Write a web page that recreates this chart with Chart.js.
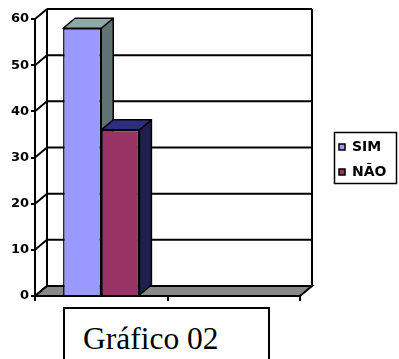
<!DOCTYPE html>
<html>
<head>
<meta charset="utf-8">
<script src="https://cdn.jsdelivr.net/npm/chart.js@4.4.1/dist/chart.umd.min.js"></script>
<style>
  html, body { margin: 0; padding: 0; background: #fff; }
  #wrap { position: relative; width: 399px; height: 359px; overflow: hidden; }
  #chart { position: absolute; left: 0; top: 0; }
  #caption {
    position: absolute; left: 63px; top: 307px; width: 203px; height: 80px;
    border: 2px solid #000; background: #fff;
  }
  #caption span {
    position: absolute; left: 18px; top: 14px;
    font-family: "Liberation Serif", "Times New Roman", serif;
    font-size: 31.5px; line-height: 31px; color: #000; white-space: nowrap;
  }
</style>
</head>
<body>
<div id="wrap">
  <canvas id="chart" width="399" height="359"></canvas>
  <div id="caption"><span>Gráfico 02</span></div>
</div>
<script>
// Data
const categories = ['', ''];
const seriesNames = ['SIM', 'NÃO'];
const simValues = [58, null];
const naoValues = [36, null];
const yTicks = [0, 10, 20, 30, 40, 50, 60];

// Face colours for the pseudo-3D columns: front, top, side
const simColors = { front: '#9999ff', top: '#8ea8a7', side: '#5e7372' };
const naoColors = { front: '#993366', top: '#2e2e80', side: '#1f1f4f' };
const faceColors = [simColors, naoColors];

// Depth offset used for the walls, floor and column sides
const DX = 12, DY = -10;

function line(ctx, x1, y1, x2, y2) {
  ctx.beginPath();
  ctx.moveTo(x1, y1);
  ctx.lineTo(x2, y2);
  ctx.stroke();
}

function poly(ctx, pts, fill) {
  ctx.beginPath();
  ctx.moveTo(pts[0][0], pts[0][1]);
  for (let i = 1; i < pts.length; i++) ctx.lineTo(pts[i][0], pts[i][1]);
  ctx.closePath();
  ctx.fillStyle = fill;
  ctx.fill();
  ctx.stroke();
}

const depthPlugin = {
  id: 'depth3d',
  afterLayout(chart) {
    // Legend sits to the right of the plot, inside its own framed box
    const lg = chart.legend;
    lg.left = 328; lg.right = 397;
    lg.top = 120; lg.bottom = 199;
    lg.width = lg.right - lg.left;
    lg.height = lg.bottom - lg.top;
  },
  beforeDraw(chart) {
    const { ctx, chartArea: a, scales: { y } } = chart;
    ctx.save();
    ctx.strokeStyle = '#000';
    ctx.lineWidth = 2;
    const wl = a.left + DX, wr = a.right + DX;
    const wt = y.getPixelForValue(yTicks[yTicks.length - 1]) + DY;
    const wb = y.getPixelForValue(yTicks[0]) + DY;
    // back wall
    ctx.fillStyle = '#fff';
    ctx.fillRect(wl, wt, wr - wl, wb - wt);
    // gridlines on the back wall and the side wall
    yTicks.forEach(v => {
      const py = y.getPixelForValue(v);
      line(ctx, wl, py + DY, wr, py + DY);
      line(ctx, a.left, py, wl, py + DY);
    });
    line(ctx, wl, wt, wl, wb);
    line(ctx, wr, wt, wr, wb);
    // floor
    const fy = y.getPixelForValue(yTicks[0]);
    poly(ctx, [[a.left, fy], [a.right, fy], [wr, wb], [wl, wb]], '#888888');
    ctx.restore();
  },
  beforeDatasetsDraw(chart) {
    const { ctx } = chart;
    ctx.save();
    ctx.strokeStyle = '#000';
    ctx.lineWidth = 1.5;
    ctx.lineJoin = 'round';
    chart.data.datasets.forEach((ds, di) => {
      const meta = chart.getDatasetMeta(di);
      meta.data.forEach((bar, i) => {
        if (ds.data[i] == null) return;
        const { x, y, width, base } = bar.getProps(['x', 'y', 'width', 'base'], true);
        const L = x - width / 2, R = x + width / 2;
        const c = faceColors[di];
        poly(ctx, [[R, y], [R + DX, y + DY], [R + DX, base + DY], [R, base]], c.side);
        poly(ctx, [[L, y], [R, y], [R + DX, y + DY], [L + DX, y + DY]], c.top);
      });
    });
    ctx.restore();
  },
  afterDraw(chart) {
    const { ctx } = chart;
    ctx.save();
    ctx.strokeStyle = '#000';
    ctx.lineWidth = 1.5;
    ctx.strokeRect(334.5, 132.5, 62, 51);
    ctx.restore();
  }
};

Chart.defaults.font.family = "'DejaVu Sans', sans-serif";
Chart.defaults.color = '#000';

new Chart(document.getElementById('chart'), {
  type: 'bar',
  data: {
    labels: categories,
    datasets: [
      {
        label: seriesNames[0], data: simValues,
        backgroundColor: simColors.front, borderColor: '#000', borderWidth: 1.5
      },
      {
        label: seriesNames[1], data: naoValues,
        backgroundColor: naoColors.front, borderColor: '#000', borderWidth: 1.5
      }
    ]
  },
  options: {
    responsive: false,
    animation: false,
    devicePixelRatio: 1,
    layout: { padding: { top: 19, right: 99, bottom: 0, left: 0 } },
    datasets: { bar: { categoryPercentage: 0.576, barPercentage: 1 } },
    plugins: {
      tooltip: { enabled: false },
      legend: {
        position: 'chartArea',
        labels: {
          boxWidth: 6, boxHeight: 6, padding: 11, color: '#000',
          font: { family: "'DejaVu Sans', sans-serif", weight: 'bold', size: 14 }
        }
      }
    },
    scales: {
      x: {
        offset: true,
        afterFit(scale) { scale.height = 63; },
        grid: { offset: true, drawOnChartArea: false, drawTicks: true, tickLength: 5, color: '#000', lineWidth: 2 },
        border: { display: true, color: '#000', width: 2 },
        ticks: { display: false }
      },
      y: {
        min: yTicks[0],
        max: yTicks[yTicks.length - 1],
        afterFit(scale) { scale.width = 35; },
        afterBuildTicks(scale) { scale.ticks = yTicks.map(v => ({ value: v })); },
        grid: { drawOnChartArea: false, drawTicks: true, tickLength: 4, color: '#000', lineWidth: 2 },
        border: { display: true, color: '#000', width: 2 },
        ticks: {
          padding: 2, color: '#000',
          font: { family: "'DejaVu Sans', sans-serif", weight: 'bold', size: 13 }
        }
      }
    }
  },
  plugins: [depthPlugin]
});
</script>
</body>
</html>
